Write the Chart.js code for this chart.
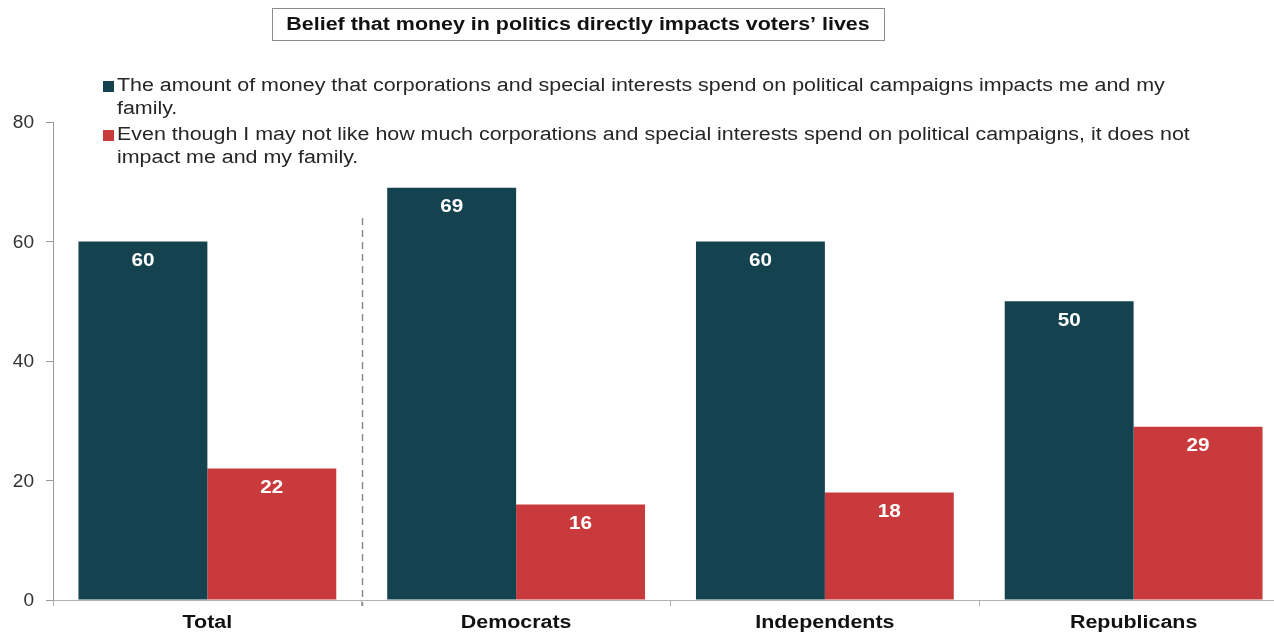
<!DOCTYPE html>
<html>
<head>
<meta charset="utf-8">
<script src="https://cdn.jsdelivr.net/npm/chart.js@4"></script>
<style>
  body { margin: 0; background: #fff; }
  #wrap { width: 1274px; height: 635px; overflow: hidden; position: relative; }
  canvas { display: block; }
</style>
</head>
<body>
<div id="wrap"><canvas id="myChart" width="1288" height="635"></canvas></div>
<script>
// groups on the x axis
const groups = ['Total', 'Democrats', 'Independents', 'Republicans']

// % of voters
const impactsMe = [60, 69, 60, 50]
const doesNotImpactMe = [22, 16, 18, 29]

const yTicks = [0, 20, 40, 60, 80]

const chartTitle = 'Belief that money in politics directly impacts voters\u2019 lives'

// legend text, already split into lines
const impactsMeLabel = [
    'The amount of money that corporations and special interests spend on political campaigns impacts me and my',
    'family.'
]
const doesNotImpactMeLabel = [
    'Even though I may not like how much corporations and special interests spend on political campaigns, it does not',
    'impact me and my family.'
]

const navy = '#15424f'
const red = '#c83a3b'
const FONT = '"Liberation Sans", Arial, sans-serif'
// the type in this chart is set a little wide
const WIDE = 1.19

Chart.defaults.font.family = FONT

// draw text stretched horizontally around its anchor
function wideText(c, text, x, y, font, color, align, sx) {
    c.save()
    c.font = font
    c.fillStyle = color
    c.textAlign = align
    c.textBaseline = 'middle'
    c.translate(x, y + 1.5)
    c.scale(sx, 1)
    c.fillText(text, 0, 0)
    c.restore()
}

// boxed title at the top
const titleBox = {
    id: 'titleBox',
    afterDraw(chart) {
        const c = chart.ctx
        c.save()
        c.strokeStyle = '#8c8c8c'
        c.lineWidth = 1
        c.strokeRect(272.5, 8.5, 612, 32)
        c.restore()
        wideText(c, chartTitle, 578, 23.5, 'bold 18px ' + FONT, '#111', 'center', WIDE)
    }
}

// two-item legend with wrapped lines, drawn over the top of the plot
const wrappedLegend = {
    id: 'wrappedLegend',
    afterDraw(chart) {
        const c = chart.ctx
        let y = 85
        chart.data.datasets.forEach(ds => {
            c.fillStyle = ds.backgroundColor
            c.fillRect(103, y - 4, 11, 11)
            ds.legendLines.forEach((line, i) => {
                wideText(c, line, 117, y + i * 23, '18px ' + FONT, '#262626', 'left', WIDE)
            })
            y += 49
        })
    }
}

// axis labels, placed from the chart's own scales
const axisLabels = {
    id: 'axisLabels',
    afterDraw(chart) {
        const c = chart.ctx
        const { x, y } = chart.scales
        y.ticks.forEach(t => {
            wideText(c, String(t.value), 34, y.getPixelForValue(t.value), '18px ' + FONT, '#333', 'right', 1.06)
        })
        groups.forEach((g, i) => {
            wideText(c, g, x.getPixelForValue(i), 622, 'bold 18px ' + FONT, '#111', 'center', WIDE)
        })
    }
}

// white value labels inside the top of each bar, plus the dashed divider after "Total"
const barLabels = {
    id: 'barLabels',
    afterDatasetsDraw(chart) {
        const c = chart.ctx
        chart.data.datasets.forEach((ds, di) => {
            chart.getDatasetMeta(di).data.forEach((bar, i) => {
                wideText(c, String(ds.data[i]), bar.x, bar.y + 18, 'bold 18px ' + FONT, '#fff', 'center', 1.15)
            })
        })

        const x = chart.scales.x
        const divX = Math.round((x.getPixelForValue(0) + x.getPixelForValue(1)) / 2) + 0.5
        c.save()
        c.strokeStyle = '#8c8c8c'
        c.lineWidth = 1.5
        c.setLineDash([7, 5])
        c.beginPath()
        c.moveTo(divX, 218)
        c.lineTo(divX, chart.chartArea.bottom + 6)
        c.stroke()
        c.restore()
    }
}

const ctx = document.getElementById('myChart').getContext('2d')

const myChart = new Chart(ctx, {
    type: 'bar',
    data: {
        labels: groups,
        datasets: [{
            label: impactsMeLabel.join(' '),
            legendLines: impactsMeLabel,
            data: impactsMe,
            backgroundColor: navy
        }, {
            label: doesNotImpactMeLabel.join(' '),
            legendLines: doesNotImpactMeLabel,
            data: doesNotImpactMe,
            backgroundColor: red
        }]
    },
    options: {
        responsive: false,
        animation: false,
        events: [],
        layout: { padding: { top: 122, right: 0, left: 0, bottom: 0 } },
        datasets: {
            bar: { barPercentage: 1, categoryPercentage: 0.835 }
        },
        plugins: {
            legend: { display: false },
            title: { display: false },
            tooltip: { enabled: false }
        },
        scales: {
            y: {
                min: 0,
                max: 80,
                afterBuildTicks: scale => {
                    scale.ticks = yTicks.map(v => ({ value: v }))
                },
                afterFit: scale => { scale.width = 53 },
                border: { color: '#9a9a9a', width: 1 },
                grid: { drawOnChartArea: false, tickLength: 7, color: '#9a9a9a' },
                ticks: { display: false }
            },
            x: {
                afterFit: scale => { scale.height = 35 },
                border: { color: '#b0b0b0', width: 1 },
                grid: { drawOnChartArea: false, offset: true, tickLength: 6, color: '#b0b0b0' },
                ticks: { display: false }
            }
        }
    },
    plugins: [titleBox, wrappedLegend, axisLabels, barLabels]
})
</script>
</body>
</html>
